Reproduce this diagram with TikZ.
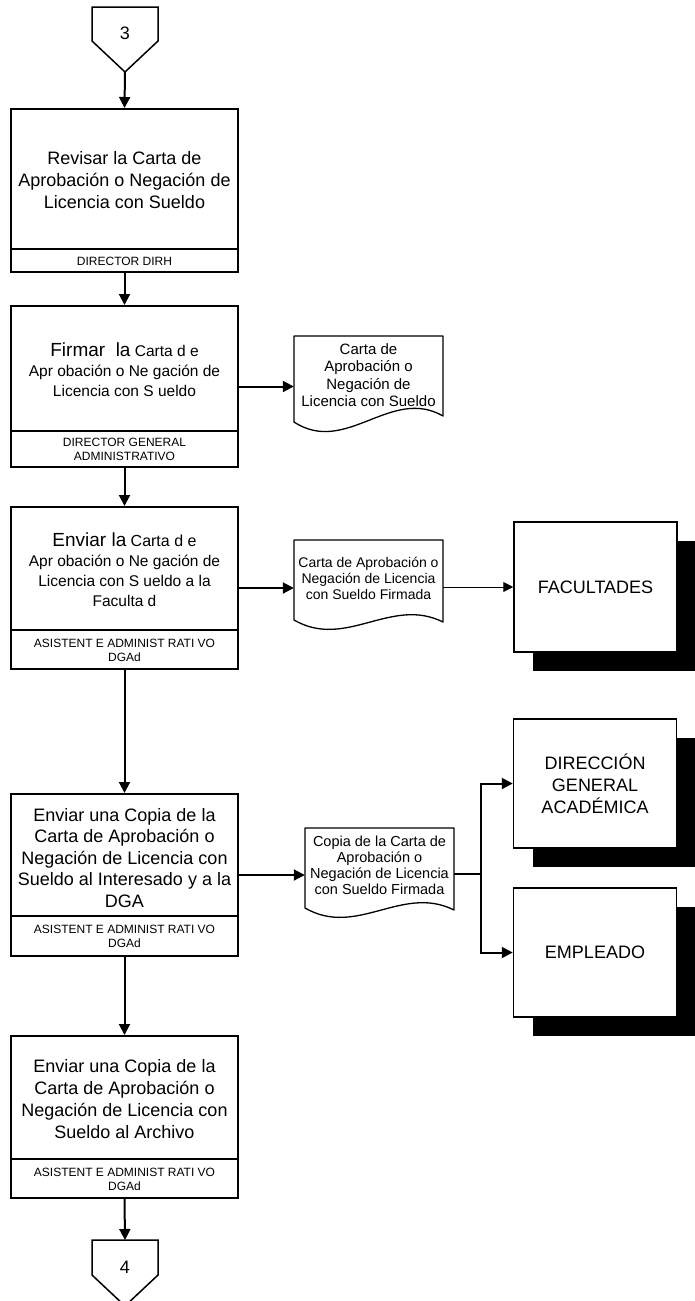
\documentclass[tikz,border=0pt]{standalone}
\usepackage{fontspec}
\setmainfont{Liberation Sans}
\usetikzlibrary{arrows.meta,shadows}

\tikzset{
  proc/.style={draw, line width=2pt, minimum width=227pt, inner sep=0pt},
  divider/.style={line width=2pt},
  maintext/.style={align=center, inner sep=0pt, font=\fontsize{18}{22}\selectfont},
  smalltext/.style={align=center, inner sep=0pt, font=\fontsize{15.5}{20}\selectfont},
  roletext/.style={align=center, inner sep=0pt, font=\fontsize{12}{14}\selectfont},
  docline/.style={line width=1.3pt, line join=round},
  doctext/.style={align=center, inner sep=0pt, minimum width=149pt},
  extbox/.style={draw, line width=1.5pt, fill=white, minimum width=163pt,
    minimum height=130pt, inner sep=0pt, align=center,
    font=\fontsize{18}{22}\selectfont,
    drop shadow={shadow xshift=19pt, shadow yshift=-19pt, fill=black, opacity=1}},
  connline/.style={line width=1.5pt, line join=miter},
  conntext/.style={inner sep=0pt, font=\fontsize{18}{20}\selectfont},
  flow/.style={line width=2pt, -{Triangle[length=11pt,width=11pt]}},
  thinflow/.style={line width=1pt, -{Triangle[length=10pt,width=10pt]}}
}

\begin{document}
\begin{tikzpicture}[x=1pt, y=-1pt]
\useasboundingbox[fill=white] (0,0) rectangle (695,1301);

% off-page connector 3
\draw[connline] (92,7) -- (158,7) -- (158,41) -- (125,72) -- (92,41) -- cycle;
\node[conntext] (c3) at (125,33) {3};
\coordinate (c3tip) at (125,72);

% step 1
\node[proc, minimum height=163pt] (p1) at (124.5,190.5) {};
\draw[divider] (p1.west |- 0,249) -- (p1.east |- 0,249);
\node[maintext] (t1) at (124.5,180) {Revisar la Carta de\\Aprobación o Negación de\\Licencia con Sueldo};
\node[roletext] (r1) at (124.5,261) {DIRECTOR DIRH};

% step 2
\node[proc, minimum height=161pt] (p2) at (124.5,386.5) {};
\draw[divider] (p2.west |- 0,431) -- (p2.east |- 0,431);
\node[smalltext] (t2) at (124.5,370) {{\fontsize{19}{20}\selectfont Firmar\ \ la} Carta d e\\Apr obación o Ne gación de\\Licencia con S ueldo};
\node[roletext] (r2) at (124.5,449.5) {DIRECTOR GENERAL\\ADMINISTRATIVO};

% document 1
\draw[docline] (294,336) -- (443,336) -- (443,416)
  .. controls (391,386) and (346,456) .. (294,422) -- cycle;
\node[doctext, font=\fontsize{15}{17.5}\selectfont] (d1) at (368.5,375) {Carta de\\Aprobación o\\Negación de\\Licencia con Sueldo};

% step 3
\node[proc, minimum height=162pt] (p3) at (124.5,588) {};
\draw[divider] (p3.west |- 0,630) -- (p3.east |- 0,630);
\node[smalltext] (t3) at (124.5,570) {{\fontsize{19}{20}\selectfont Enviar la} {\fontsize{16}{20}\selectfont Carta d e}\\Apr obación o Ne gación de\\Licencia con S ueldo a la\\Faculta d};
\node[roletext] (r3) at (124.5,650.5) {ASISTENT E ADMINIST RATI VO\\DGAd};

% document 2
\draw[docline] (294,540) -- (443,540) -- (443,622)
  .. controls (391,596) and (346,650) .. (294,620) -- cycle;
\node[doctext, font=\fontsize{14}{16}\selectfont] (d2) at (368.5,578) {Carta de Aprobación o\\Negación de Licencia\\con Sueldo Firmada};

% external entities
\node[extbox] (fac) at (595.5,587) {FACULTADES};
\node[extbox, minimum height=129pt] (dga) at (595,783.5) {DIRECCIÓN\\GENERAL\\ACADÉMICA};
\node[extbox, minimum height=129pt] (emp) at (595,952.5) {EMPLEADO};

% step 4
\node[proc, minimum height=162pt] (p4) at (124.5,875) {};
\draw[divider] (p4.west |- 0,916) -- (p4.east |- 0,916);
\node[maintext, font=\fontsize{18}{21.5}\selectfont] (t4) at (124.5,858) {Enviar una Copia de la\\Carta de Aprobación o\\Negación de Licencia con\\Sueldo al Interesado y a la\\DGA};
\node[roletext] (r4) at (124.5,936.5) {ASISTENT E ADMINIST RATI VO\\DGAd};

% document 3
\draw[docline] (305,828) -- (454,828) -- (454,910)
  .. controls (402,884) and (357,938) .. (305,908) -- cycle;
\node[doctext, font=\fontsize{14.5}{16}\selectfont] (d3) at (379.5,865) {Copia de la Carta de\\Aprobación o\\Negación de Licencia\\con Sueldo Firmada};
\coordinate (split) at (481,874);

% step 5
\node[proc, minimum height=162pt] (p5) at (124.5,1117) {};
\draw[divider] (p5.west |- 0,1159) -- (p5.east |- 0,1159);
\node[maintext] (t5) at (124.5,1099) {Enviar una Copia de la\\Carta de Aprobación o\\Negación de Licencia con\\Sueldo al Archivo};
\node[roletext] (r5) at (124.5,1179) {ASISTENT E ADMINIST RATI VO\\DGAd};

% off-page connector 4
\draw[connline] (92,1240) -- (158,1240) -- (158,1275) -- (125,1306) -- (92,1275) -- cycle;
\node[conntext] (c4) at (125,1267) {4};
\coordinate (c4top) at (125,1240);

% connectors
\draw[flow] (c3tip) -- (p1.north);
\draw[flow] (p1.south) -- (p2.north);
\draw[flow] (p2.east) -- (p2.east -| d1.west);
\draw[flow] (p2.south) -- (p3.north);
\draw[flow] (p3.east) -- (p3.east -| d2.west);
\draw[thinflow] (d2.east |- fac.west) -- (fac.west);
\draw[flow] (p3.south) -- (p4.north);
\draw[flow] (p4.east) -- (p4.east -| d3.west);
\draw[line width=2pt] (d3.east |- split) -- (split);
\draw[flow] (split) |- (dga.west);
\draw[flow] (split) |- (emp.west);
\draw[flow] (p4.south) -- (p5.north);
\draw[flow] (p5.south) -- (c4top);
\end{tikzpicture}
\end{document}
